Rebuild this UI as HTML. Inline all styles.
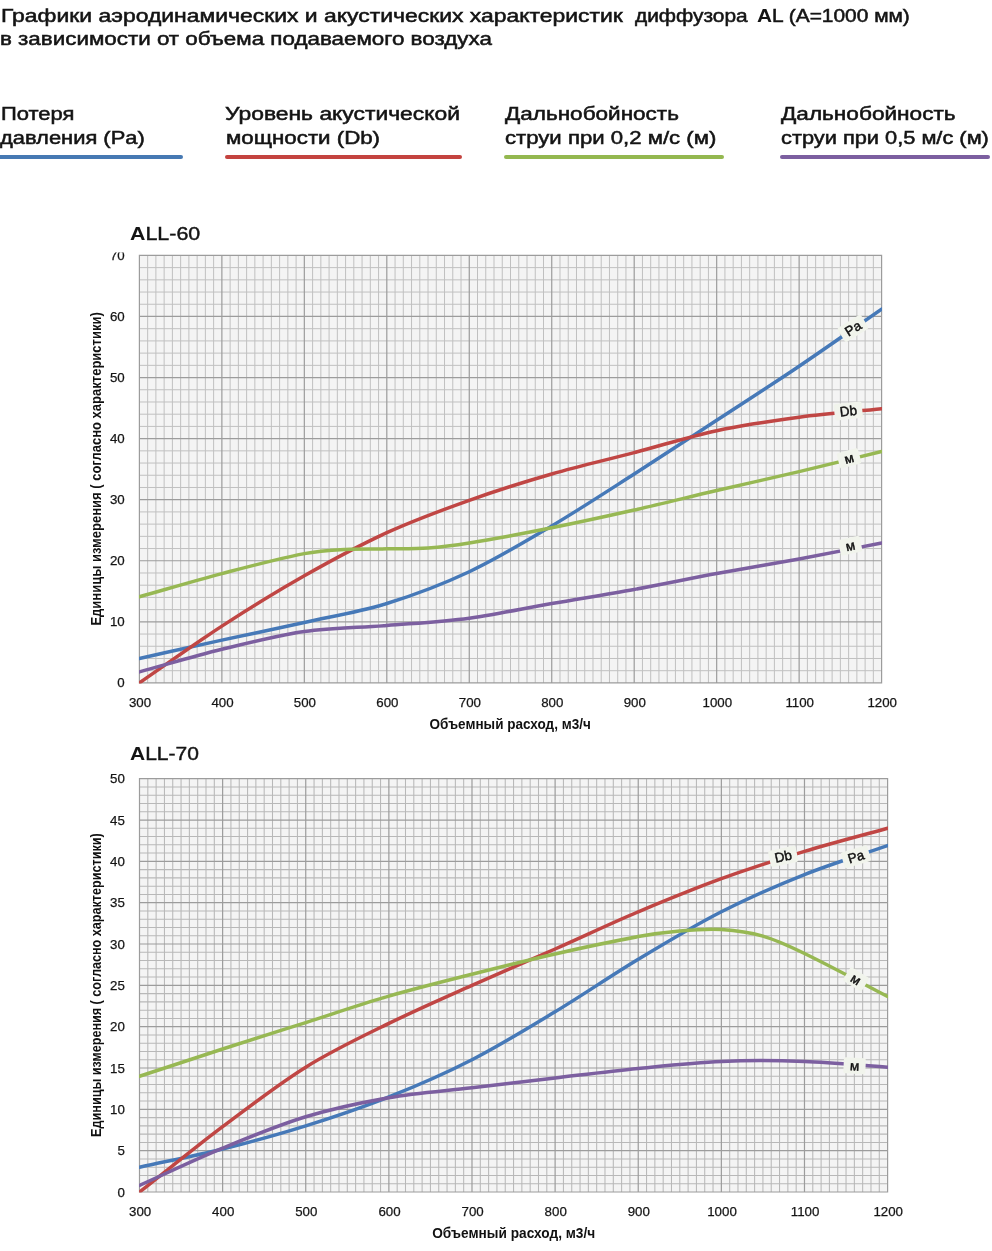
<!DOCTYPE html>
<html lang="ru">
<head>
<meta charset="utf-8">
<title>Графики характеристик диффузора AL</title>
<style>
html,body{margin:0;padding:0;background:#fff;}
body{width:992px;height:1251px;position:relative;overflow:hidden;font-family:"Liberation Sans",sans-serif;color:#141414;}
h1,h2,ul,li{margin:0;padding:0;font-weight:normal;font-size:inherit;list-style:none;}
.page{position:absolute;left:0;top:0;width:992px;height:1251px;will-change:transform;filter:blur(.4px);}
.charts{position:absolute;left:0;top:0;}
.ln{position:absolute;display:block;white-space:pre;transform-origin:0 0;-webkit-text-stroke:0.5px #141414;}
.ln b{font-weight:bold;-webkit-text-stroke:0;}
li i{display:block;position:absolute;top:154.6px;height:4px;border-radius:2px;}
</style>
</head>
<body>
<div class="page">
<svg class="charts" width="992" height="1251" viewBox="0 0 992 1251" font-family="'Liberation Sans', sans-serif">
<rect x="139.40" y="255.40" width="742.20" height="427.50" fill="#f4f4f4"/>
<path d="M147.65,255.40V682.90M155.89,255.40V682.90M164.14,255.40V682.90M172.39,255.40V682.90M180.63,255.40V682.90M188.88,255.40V682.90M197.13,255.40V682.90M205.37,255.40V682.90M213.62,255.40V682.90M230.11,255.40V682.90M238.36,255.40V682.90M246.61,255.40V682.90M254.85,255.40V682.90M263.10,255.40V682.90M271.35,255.40V682.90M279.59,255.40V682.90M287.84,255.40V682.90M296.09,255.40V682.90M312.58,255.40V682.90M320.83,255.40V682.90M329.07,255.40V682.90M337.32,255.40V682.90M345.57,255.40V682.90M353.81,255.40V682.90M362.06,255.40V682.90M370.31,255.40V682.90M378.55,255.40V682.90M395.05,255.40V682.90M403.29,255.40V682.90M411.54,255.40V682.90M419.79,255.40V682.90M428.03,255.40V682.90M436.28,255.40V682.90M444.53,255.40V682.90M452.77,255.40V682.90M461.02,255.40V682.90M477.51,255.40V682.90M485.76,255.40V682.90M494.01,255.40V682.90M502.25,255.40V682.90M510.50,255.40V682.90M518.75,255.40V682.90M526.99,255.40V682.90M535.24,255.40V682.90M543.49,255.40V682.90M559.98,255.40V682.90M568.23,255.40V682.90M576.47,255.40V682.90M584.72,255.40V682.90M592.97,255.40V682.90M601.21,255.40V682.90M609.46,255.40V682.90M617.71,255.40V682.90M625.95,255.40V682.90M642.45,255.40V682.90M650.69,255.40V682.90M658.94,255.40V682.90M667.19,255.40V682.90M675.43,255.40V682.90M683.68,255.40V682.90M691.93,255.40V682.90M700.17,255.40V682.90M708.42,255.40V682.90M724.91,255.40V682.90M733.16,255.40V682.90M741.41,255.40V682.90M749.65,255.40V682.90M757.90,255.40V682.90M766.15,255.40V682.90M774.39,255.40V682.90M782.64,255.40V682.90M790.89,255.40V682.90M807.38,255.40V682.90M815.63,255.40V682.90M823.87,255.40V682.90M832.12,255.40V682.90M840.37,255.40V682.90M848.61,255.40V682.90M856.86,255.40V682.90M865.11,255.40V682.90M873.35,255.40V682.90M139.40,267.61H881.60M139.40,279.83H881.60M139.40,292.04H881.60M139.40,304.26H881.60M139.40,328.69H881.60M139.40,340.90H881.60M139.40,353.11H881.60M139.40,365.33H881.60M139.40,389.76H881.60M139.40,401.97H881.60M139.40,414.19H881.60M139.40,426.40H881.60M139.40,450.83H881.60M139.40,463.04H881.60M139.40,475.26H881.60M139.40,487.47H881.60M139.40,511.90H881.60M139.40,524.11H881.60M139.40,536.33H881.60M139.40,548.54H881.60M139.40,572.97H881.60M139.40,585.19H881.60M139.40,597.40H881.60M139.40,609.61H881.60M139.40,634.04H881.60M139.40,646.26H881.60M139.40,658.47H881.60M139.40,670.69H881.60" stroke="#c0c0c0" stroke-width="1.0" fill="none"/>
<path d="M139.40,255.40V682.90M221.87,255.40V682.90M304.33,255.40V682.90M386.80,255.40V682.90M469.27,255.40V682.90M551.73,255.40V682.90M634.20,255.40V682.90M716.67,255.40V682.90M799.13,255.40V682.90M881.60,255.40V682.90M139.40,255.40H881.60M139.40,316.47H881.60M139.40,377.54H881.60M139.40,438.61H881.60M139.40,499.69H881.60M139.40,560.76H881.60M139.40,621.83H881.60M139.40,682.90H881.60" stroke="#9c9c9c" stroke-width="1.2" fill="none" stroke-linecap="square"/>
<clipPath id="plot255"><rect x="139.00" y="255.00" width="743.00" height="428.50"/></clipPath>
<g clip-path="url(#plot255)">
<path d="M139.40,658.47 C166.89,652.36 194.38,646.16 221.87,640.15 C249.36,634.14 276.84,628.55 304.33,622.44 C331.82,616.33 359.31,611.96 386.80,603.51 C414.29,595.06 441.78,584.68 469.27,571.75 C496.76,558.82 524.24,542.23 551.73,525.95 C579.22,509.66 606.71,491.64 634.20,474.04 C661.69,456.43 689.18,438.26 716.67,420.29 C744.16,402.33 771.64,384.77 799.13,366.24 C826.62,347.72 854.11,328.18 881.60,309.14" stroke="#4679b8" stroke-width="3.5" fill="none" stroke-linecap="round" stroke-linejoin="round"/>
<path d="M139.40,682.90 C166.89,663.97 194.38,643.97 221.87,626.10 C249.36,608.24 276.84,591.29 304.33,575.72 C331.82,560.15 359.31,545.23 386.80,532.66 C414.29,520.09 441.78,510.07 469.27,500.30 C496.76,490.52 524.24,481.97 551.73,474.04 C579.22,466.10 606.71,459.89 634.20,452.66 C661.69,445.43 689.18,436.58 716.67,430.67 C744.16,424.77 771.64,420.90 799.13,417.24 C826.62,413.57 854.11,411.54 881.60,408.69" stroke="#c04644" stroke-width="3.5" fill="none" stroke-linecap="round" stroke-linejoin="round"/>
<path d="M139.40,596.79 C166.89,589.05 194.38,580.78 221.87,573.58 C249.36,566.39 276.84,558.99 304.33,553.61 C318.08,550.92 331.82,550.19 345.57,549.40 C359.31,548.60 373.06,549.07 386.80,548.85 C400.54,548.62 414.29,549.02 428.03,548.05 C441.78,547.09 455.52,545.30 469.27,543.05 C496.76,538.54 524.24,533.28 551.73,527.78 C579.22,522.28 606.71,516.28 634.20,510.07 C661.69,503.86 689.18,496.94 716.67,490.52 C744.16,484.11 771.64,478.11 799.13,471.59 C826.62,465.08 854.11,458.16 881.60,451.44" stroke="#97b853" stroke-width="3.5" fill="none" stroke-linecap="round" stroke-linejoin="round"/>
<path d="M139.40,671.91 C166.89,664.38 194.38,656.03 221.87,649.31 C249.36,642.59 276.84,635.57 304.33,631.60 C331.82,627.63 359.31,627.73 386.80,625.49 C414.29,623.25 441.78,621.83 469.27,618.16 C496.76,614.50 524.24,608.29 551.73,603.51 C579.22,598.72 606.71,594.45 634.20,589.46 C661.69,584.47 689.18,578.67 716.67,573.58 C744.16,568.49 771.64,564.01 799.13,558.92 C826.62,553.84 854.11,548.34 881.60,543.05" stroke="#7c5fa0" stroke-width="3.5" fill="none" stroke-linecap="round" stroke-linejoin="round"/>
</g>
<g transform="translate(853.0,328.3) rotate(-32.0)"><rect x="-13.8" y="-8.2" width="27.5" height="16.5" rx="2" fill="#f1f4ec"/><text x="0" y="4.7" text-anchor="middle" font-size="13.5" fill="#111" stroke="#111" stroke-width=".45">Pa</text></g>
<g transform="translate(848.3,411.0) rotate(-6.0)"><rect x="-14.0" y="-8.2" width="28.0" height="16.5" rx="2" fill="#f1f4ec"/><text x="0" y="4.7" text-anchor="middle" font-size="13.5" fill="#111" stroke="#111" stroke-width=".45">Db</text></g>
<g transform="translate(849.0,458.3) rotate(-15.0)"><rect x="-11.0" y="-8.0" width="22.0" height="16.0" rx="2" fill="#f1f4ec"/><text x="0" y="4.7" text-anchor="middle" font-size="13.5" fill="#111" stroke="#111" stroke-width=".45">м</text></g>
<g transform="translate(850.2,545.7) rotate(-12.0)"><rect x="-11.0" y="-8.0" width="22.0" height="16.0" rx="2" fill="#f1f4ec"/><text x="0" y="4.7" text-anchor="middle" font-size="13.5" fill="#111" stroke="#111" stroke-width=".45">м</text></g>
<rect x="139.50" y="778.70" width="748.10" height="413.30" fill="#f4f4f4"/>
<path d="M147.81,778.70V1192.00M156.12,778.70V1192.00M164.44,778.70V1192.00M172.75,778.70V1192.00M181.06,778.70V1192.00M189.37,778.70V1192.00M197.69,778.70V1192.00M206.00,778.70V1192.00M214.31,778.70V1192.00M230.93,778.70V1192.00M239.25,778.70V1192.00M247.56,778.70V1192.00M255.87,778.70V1192.00M264.18,778.70V1192.00M272.50,778.70V1192.00M280.81,778.70V1192.00M289.12,778.70V1192.00M297.43,778.70V1192.00M314.06,778.70V1192.00M322.37,778.70V1192.00M330.68,778.70V1192.00M338.99,778.70V1192.00M347.31,778.70V1192.00M355.62,778.70V1192.00M363.93,778.70V1192.00M372.24,778.70V1192.00M380.55,778.70V1192.00M397.18,778.70V1192.00M405.49,778.70V1192.00M413.80,778.70V1192.00M422.12,778.70V1192.00M430.43,778.70V1192.00M438.74,778.70V1192.00M447.05,778.70V1192.00M455.36,778.70V1192.00M463.68,778.70V1192.00M480.30,778.70V1192.00M488.61,778.70V1192.00M496.93,778.70V1192.00M505.24,778.70V1192.00M513.55,778.70V1192.00M521.86,778.70V1192.00M530.17,778.70V1192.00M538.49,778.70V1192.00M546.80,778.70V1192.00M563.42,778.70V1192.00M571.74,778.70V1192.00M580.05,778.70V1192.00M588.36,778.70V1192.00M596.67,778.70V1192.00M604.98,778.70V1192.00M613.30,778.70V1192.00M621.61,778.70V1192.00M629.92,778.70V1192.00M646.55,778.70V1192.00M654.86,778.70V1192.00M663.17,778.70V1192.00M671.48,778.70V1192.00M679.79,778.70V1192.00M688.11,778.70V1192.00M696.42,778.70V1192.00M704.73,778.70V1192.00M713.04,778.70V1192.00M729.67,778.70V1192.00M737.98,778.70V1192.00M746.29,778.70V1192.00M754.60,778.70V1192.00M762.92,778.70V1192.00M771.23,778.70V1192.00M779.54,778.70V1192.00M787.85,778.70V1192.00M796.17,778.70V1192.00M812.79,778.70V1192.00M821.10,778.70V1192.00M829.41,778.70V1192.00M837.73,778.70V1192.00M846.04,778.70V1192.00M854.35,778.70V1192.00M862.66,778.70V1192.00M870.98,778.70V1192.00M879.29,778.70V1192.00M139.50,786.97H887.60M139.50,795.23H887.60M139.50,803.50H887.60M139.50,811.76H887.60M139.50,828.30H887.60M139.50,836.56H887.60M139.50,844.83H887.60M139.50,853.09H887.60M139.50,869.63H887.60M139.50,877.89H887.60M139.50,886.16H887.60M139.50,894.42H887.60M139.50,910.96H887.60M139.50,919.22H887.60M139.50,927.49H887.60M139.50,935.75H887.60M139.50,952.29H887.60M139.50,960.55H887.60M139.50,968.82H887.60M139.50,977.08H887.60M139.50,993.62H887.60M139.50,1001.88H887.60M139.50,1010.15H887.60M139.50,1018.41H887.60M139.50,1034.95H887.60M139.50,1043.21H887.60M139.50,1051.48H887.60M139.50,1059.74H887.60M139.50,1076.28H887.60M139.50,1084.54H887.60M139.50,1092.81H887.60M139.50,1101.07H887.60M139.50,1117.61H887.60M139.50,1125.87H887.60M139.50,1134.14H887.60M139.50,1142.40H887.60M139.50,1158.94H887.60M139.50,1167.20H887.60M139.50,1175.47H887.60M139.50,1183.73H887.60" stroke="#b8b8b8" stroke-width="1.05" fill="none"/>
<path d="M139.50,778.70V1192.00M222.62,778.70V1192.00M305.74,778.70V1192.00M388.87,778.70V1192.00M471.99,778.70V1192.00M555.11,778.70V1192.00M638.23,778.70V1192.00M721.36,778.70V1192.00M804.48,778.70V1192.00M887.60,778.70V1192.00M139.50,778.70H887.60M139.50,820.03H887.60M139.50,861.36H887.60M139.50,902.69H887.60M139.50,944.02H887.60M139.50,985.35H887.60M139.50,1026.68H887.60M139.50,1068.01H887.60M139.50,1109.34H887.60M139.50,1150.67H887.60M139.50,1192.00H887.60" stroke="#9c9c9c" stroke-width="1.2" fill="none" stroke-linecap="square"/>
<clipPath id="plot778"><rect x="139.10" y="778.30" width="748.90" height="414.30"/></clipPath>
<g clip-path="url(#plot778)">
<path d="M139.50,1167.20 C167.21,1161.14 194.91,1155.91 222.62,1149.02 C250.33,1142.13 278.04,1134.55 305.74,1125.87 C333.45,1117.19 361.16,1107.96 388.87,1096.94 C416.57,1085.92 444.28,1073.93 471.99,1059.74 C499.70,1045.55 527.40,1028.54 555.11,1011.80 C582.82,995.06 610.53,975.98 638.23,959.31 C665.94,942.64 693.65,925.90 721.36,911.78 C749.06,897.66 776.77,885.61 804.48,874.59 C832.19,863.56 859.89,855.30 887.60,845.65" stroke="#4679b8" stroke-width="3.5" fill="none" stroke-linecap="round" stroke-linejoin="round"/>
<path d="M139.50,1192.00 C167.21,1170.23 194.91,1147.50 222.62,1126.70 C250.33,1105.90 278.04,1084.40 305.74,1067.18 C333.45,1049.96 361.16,1037.01 388.87,1023.37 C416.57,1009.73 444.28,997.75 471.99,985.35 C499.70,972.95 527.40,961.24 555.11,948.98 C582.82,936.72 610.53,923.49 638.23,911.78 C665.94,900.07 693.65,888.78 721.36,878.72 C749.06,868.66 776.77,859.84 804.48,851.44 C832.19,843.04 859.89,836.01 887.60,828.30" stroke="#c04644" stroke-width="3.5" fill="none" stroke-linecap="round" stroke-linejoin="round"/>
<path d="M139.50,1076.28 C167.21,1067.18 194.91,1057.95 222.62,1049.00 C250.33,1040.04 278.04,1031.36 305.74,1022.55 C333.45,1013.73 361.16,1004.16 388.87,996.10 C416.57,988.04 444.28,981.22 471.99,974.19 C499.70,967.16 527.40,960.21 555.11,953.94 C582.82,947.67 610.53,941.69 638.23,936.58 C652.09,934.03 665.94,932.13 679.79,930.96 C693.65,929.79 707.50,928.69 721.36,929.55 C735.21,930.42 749.06,932.17 762.92,936.17 C776.77,940.16 790.62,946.82 804.48,953.53 C832.19,966.94 859.89,982.18 887.60,996.51" stroke="#97b853" stroke-width="3.5" fill="none" stroke-linecap="round" stroke-linejoin="round"/>
<path d="M139.50,1185.39 C167.21,1172.99 194.91,1159.62 222.62,1148.19 C250.33,1136.76 278.04,1125.18 305.74,1116.78 C333.45,1108.38 361.16,1102.59 388.87,1097.77 C416.57,1092.95 444.28,1091.15 471.99,1087.85 C499.70,1084.54 527.40,1081.17 555.11,1077.93 C582.82,1074.69 610.53,1071.18 638.23,1068.42 C665.94,1065.67 693.65,1062.57 721.36,1061.40 C749.06,1060.23 776.77,1060.43 804.48,1061.40 C832.19,1062.36 859.89,1065.25 887.60,1067.18" stroke="#7c5fa0" stroke-width="3.5" fill="none" stroke-linecap="round" stroke-linejoin="round"/>
</g>
<g transform="translate(783.2,856.3) rotate(-12.0)"><rect x="-14.0" y="-8.2" width="28.0" height="16.5" rx="2" fill="#f1f4ec"/><text x="0" y="4.7" text-anchor="middle" font-size="13.5" fill="#111" stroke="#111" stroke-width=".45">Db</text></g>
<g transform="translate(856.0,856.7) rotate(-17.0)"><rect x="-13.8" y="-8.2" width="27.5" height="16.5" rx="2" fill="#f1f4ec"/><text x="0" y="4.7" text-anchor="middle" font-size="13.5" fill="#111" stroke="#111" stroke-width=".45">Pa</text></g>
<g transform="translate(856.0,979.3) rotate(32.0)"><rect x="-11.0" y="-8.0" width="22.0" height="16.0" rx="2" fill="#f1f4ec"/><text x="0" y="4.7" text-anchor="middle" font-size="13.5" fill="#111" stroke="#111" stroke-width=".45">м</text></g>
<g transform="translate(854.6,1065.8) rotate(3.0)"><rect x="-11.0" y="-8.0" width="22.0" height="16.0" rx="2" fill="#f1f4ec"/><text x="0" y="4.7" text-anchor="middle" font-size="13.5" fill="#111" stroke="#111" stroke-width=".45">м</text></g>
<g font-size="13.3" fill="#151515" stroke="#151515" stroke-width=".25"><text x="124.7" y="687.0" text-anchor="end">0</text>
<text x="124.7" y="625.9" text-anchor="end">10</text>
<text x="124.7" y="564.9" text-anchor="end">20</text>
<text x="124.7" y="503.8" text-anchor="end">30</text>
<text x="124.7" y="442.7" text-anchor="end">40</text>
<text x="124.7" y="381.6" text-anchor="end">50</text>
<text x="124.7" y="320.6" text-anchor="end">60</text>
<text x="124.7" y="259.5" text-anchor="end" clip-path="url(#clip70)">70</text>
<text x="124.9" y="1196.5" text-anchor="end">0</text>
<text x="124.9" y="1155.2" text-anchor="end">5</text>
<text x="124.9" y="1113.8" text-anchor="end">10</text>
<text x="124.9" y="1072.5" text-anchor="end">15</text>
<text x="124.9" y="1031.2" text-anchor="end">20</text>
<text x="124.9" y="989.9" text-anchor="end">25</text>
<text x="124.9" y="948.5" text-anchor="end">30</text>
<text x="124.9" y="907.2" text-anchor="end">35</text>
<text x="124.9" y="865.9" text-anchor="end">40</text>
<text x="124.9" y="824.5" text-anchor="end">45</text>
<text x="124.9" y="783.2" text-anchor="end">50</text>
<text x="140.0" y="707.4" text-anchor="middle">300</text>
<text x="140.1" y="1216.0" text-anchor="middle">300</text>
<text x="222.5" y="707.4" text-anchor="middle">400</text>
<text x="223.2" y="1216.0" text-anchor="middle">400</text>
<text x="304.9" y="707.4" text-anchor="middle">500</text>
<text x="306.3" y="1216.0" text-anchor="middle">500</text>
<text x="387.4" y="707.4" text-anchor="middle">600</text>
<text x="389.5" y="1216.0" text-anchor="middle">600</text>
<text x="469.9" y="707.4" text-anchor="middle">700</text>
<text x="472.6" y="1216.0" text-anchor="middle">700</text>
<text x="552.3" y="707.4" text-anchor="middle">800</text>
<text x="555.7" y="1216.0" text-anchor="middle">800</text>
<text x="634.8" y="707.4" text-anchor="middle">900</text>
<text x="638.8" y="1216.0" text-anchor="middle">900</text>
<text x="717.3" y="707.4" text-anchor="middle">1000</text>
<text x="722.0" y="1216.0" text-anchor="middle">1000</text>
<text x="799.7" y="707.4" text-anchor="middle">1100</text>
<text x="805.1" y="1216.0" text-anchor="middle">1100</text>
<text x="882.2" y="707.4" text-anchor="middle">1200</text>
<text x="888.2" y="1216.0" text-anchor="middle">1200</text></g>
<defs><clipPath id="clip70"><rect x="100" y="252.5" width="30" height="20"/></clipPath></defs>
<g font-size="13.9" font-weight="bold" fill="#111"><text x="429.6" y="729.4" textLength="161.2" lengthAdjust="spacingAndGlyphs">Объемный расход, м3/ч</text>
<text x="432.2" y="1238.0" textLength="163.0" lengthAdjust="spacingAndGlyphs">Объемный расход, м3/ч</text>
<text transform="translate(100.8,625.6) rotate(-90)" textLength="313.4" lengthAdjust="spacingAndGlyphs">Единицы измерения ( согласно характеристики)</text>
<text transform="translate(100.8,1136.9) rotate(-90)" textLength="303.6" lengthAdjust="spacingAndGlyphs">Единицы измерения ( согласно характеристики)</text></g>
</svg>
<h1><span class="ln" style="left:1.10px;top:5.10px;font-size:17.6px;line-height:22.0px;transform:scaleX(1.3027)">Графики аэродинамических и акустических характеристик</span> 
<span class="ln" style="left:634.79px;top:5.10px;font-size:17.6px;line-height:22.0px;transform:scaleX(1.1876)">диффузора</span> 
<span class="ln" style="left:757.00px;top:5.10px;font-size:17.6px;line-height:22.0px;transform:scaleX(1.1876)"><b>A</b>L (A=1000 мм)</span>
<span class="ln" style="left:-0.30px;top:28.30px;font-size:17.6px;line-height:22.0px;transform:scaleX(1.2721)">в зависимости от объема подаваемого воздуха</span> </h1>
<ul>
<li><span class="ln" style="left:1.10px;top:103.10px;font-size:17.6px;line-height:22.0px;transform:scaleX(1.2492)">Потеря</span> <span class="ln" style="left:0.35px;top:126.70px;font-size:17.6px;line-height:22.0px;transform:scaleX(1.2453)">давления (Pa)</span><i style="left:-2.0px;width:185.0px;background:#4679b3"></i></li>
<li><span class="ln" style="left:224.70px;top:103.10px;font-size:17.6px;line-height:22.0px;transform:scaleX(1.2989)">Уровень акустической</span> <span class="ln" style="left:226.10px;top:126.70px;font-size:17.6px;line-height:22.0px;transform:scaleX(1.2664)">мощности (Db)</span><i style="left:225.0px;width:237.0px;background:#c4433f"></i></li>
<li><span class="ln" style="left:504.98px;top:103.10px;font-size:17.6px;line-height:22.0px;transform:scaleX(1.2803)">Дальнобойность</span> <span class="ln" style="left:505.40px;top:126.70px;font-size:17.6px;line-height:22.0px;transform:scaleX(1.2589)">струи при 0,2 м/с (м)</span><i style="left:503.6px;width:220.7px;background:#94b850"></i></li>
<li><span class="ln" style="left:781.09px;top:103.10px;font-size:17.6px;line-height:22.0px;transform:scaleX(1.2854)">Дальнобойность</span> <span class="ln" style="left:780.70px;top:126.70px;font-size:17.6px;line-height:22.0px;transform:scaleX(1.2387)">струи при 0,5 м/с (м)</span><i style="left:780.0px;width:209.6px;background:#7c5fa0"></i></li>
</ul>
<h2><span class="ln" style="left:129.70px;top:222.23px;font-size:19.1px;line-height:23.9px;-webkit-text-stroke-width:0.45px;transform:scaleX(1.1206)"><b>A</b>LL-60</span></h2>
<h2><span class="ln" style="left:129.70px;top:741.63px;font-size:19.1px;line-height:23.9px;-webkit-text-stroke-width:0.45px;transform:scaleX(1.1000)"><b>A</b>LL-70</span></h2>
</div>
</body>
</html>
